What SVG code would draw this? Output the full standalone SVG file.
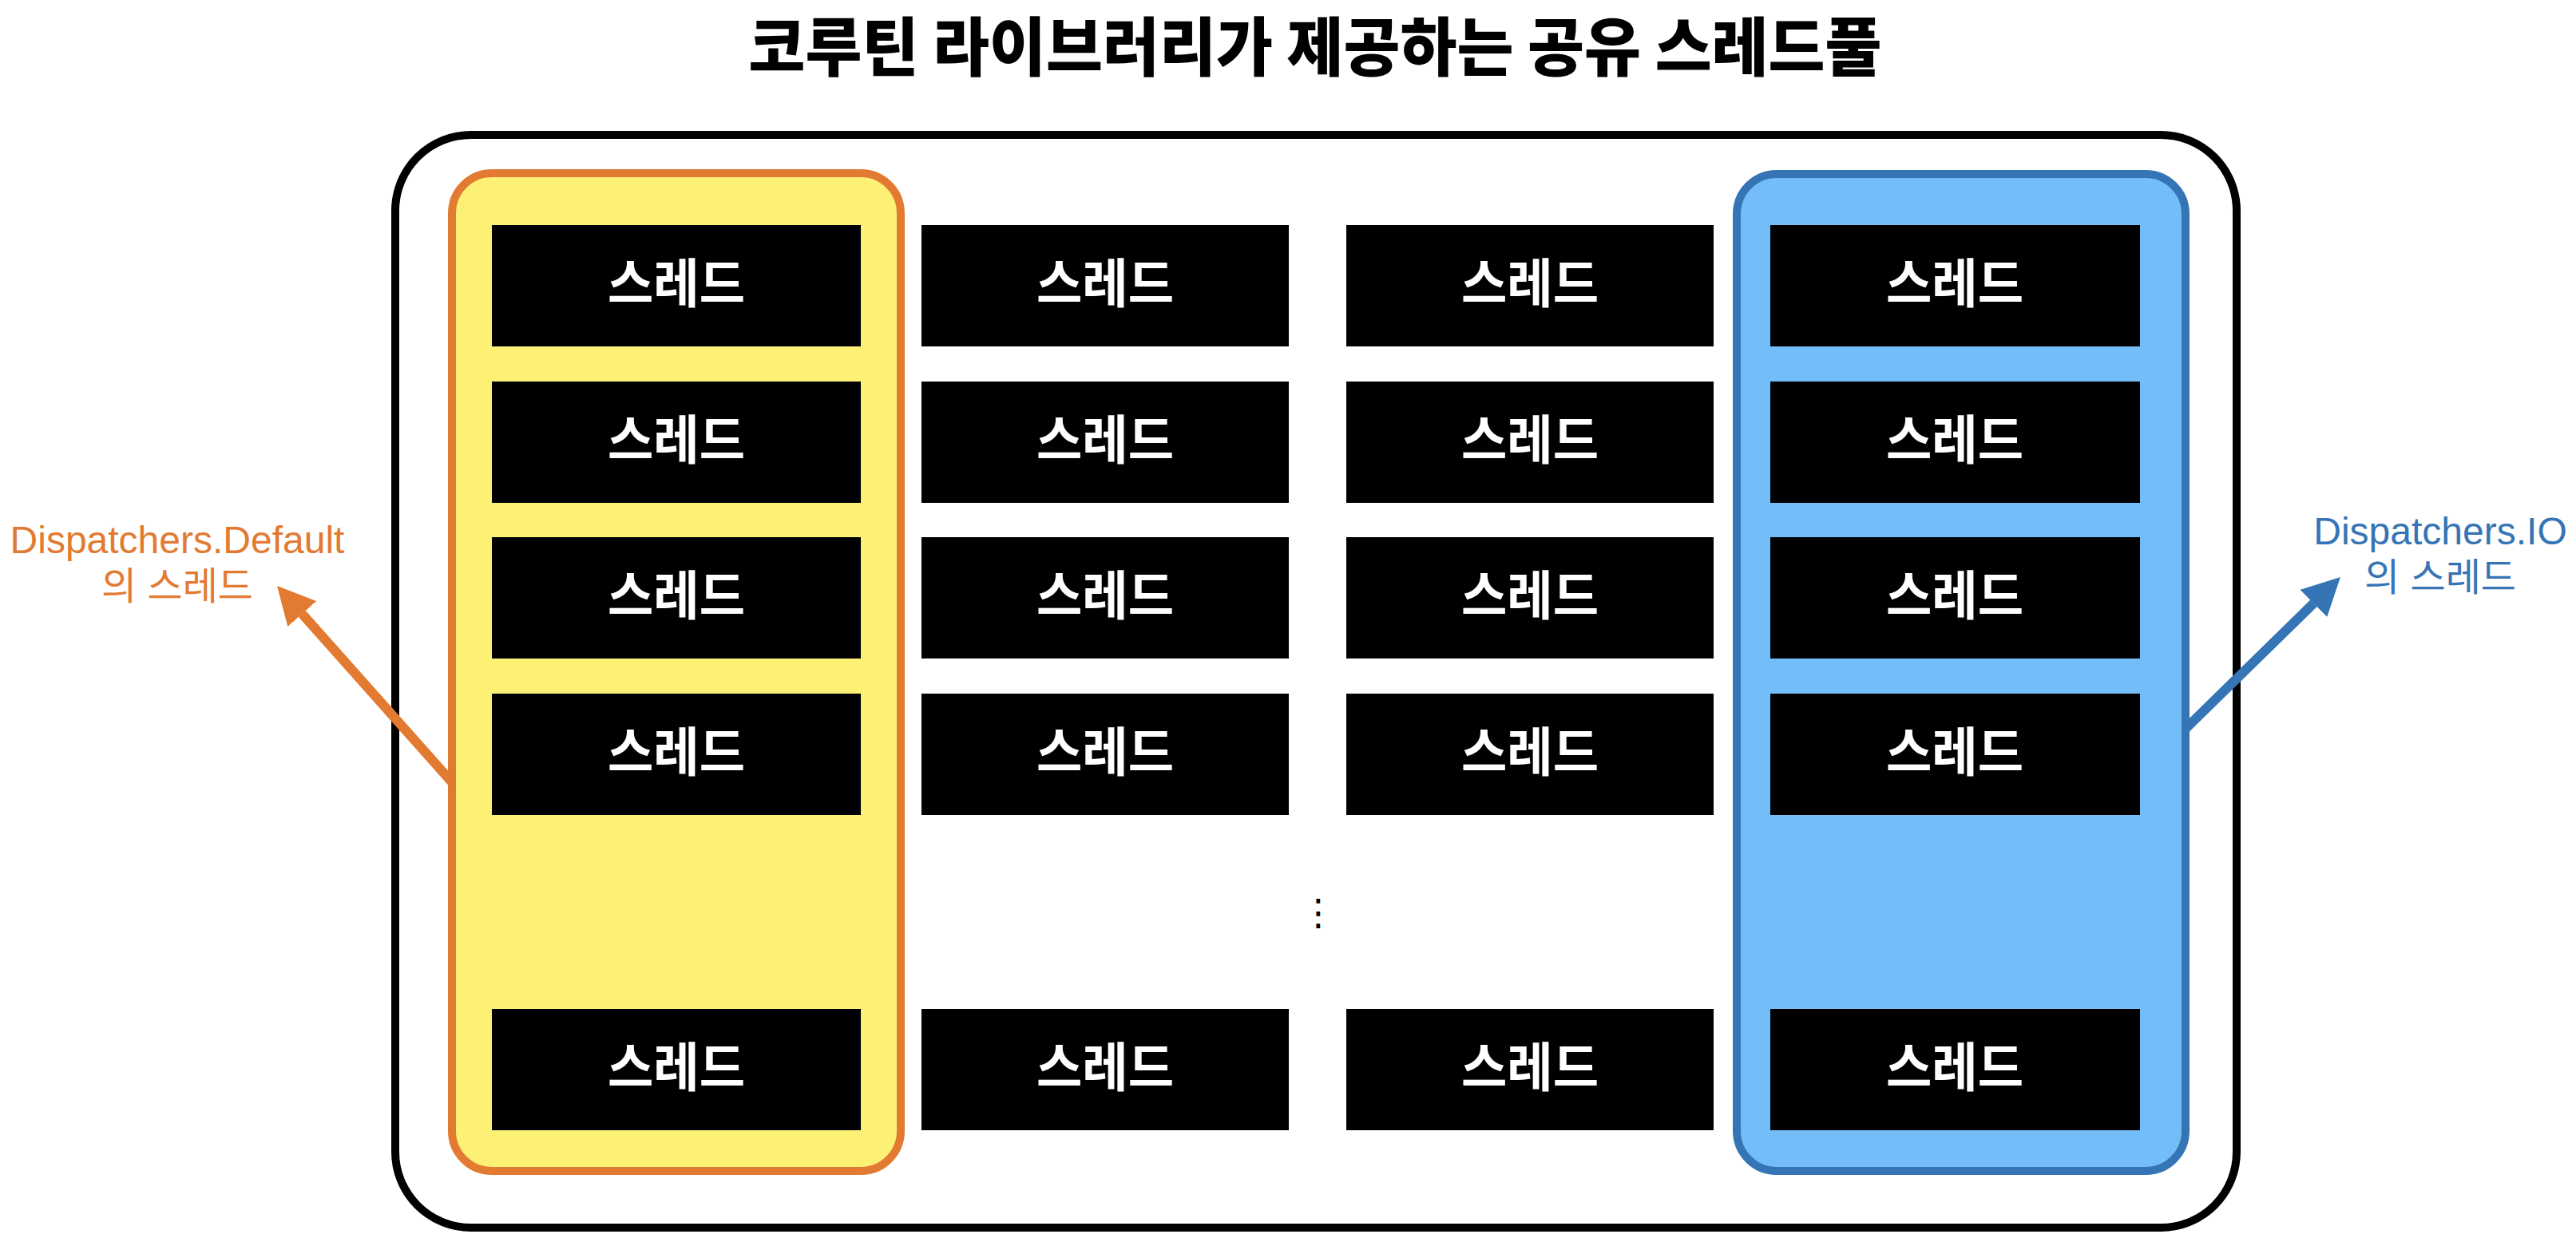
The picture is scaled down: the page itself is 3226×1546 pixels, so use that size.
<svg xmlns="http://www.w3.org/2000/svg" width="3226" height="1546" viewBox="0 0 3226 1546">
<style>
.th{fill:#000}
.tl{fill:#fff;font-family:"Noto Sans CJK KR",sans-serif;font-weight:700;font-size:66px;text-anchor:middle}
.lbl{font-family:"Liberation Sans","Noto Sans CJK KR",sans-serif;font-size:48px;text-anchor:middle}
</style>
<defs>
<marker id="ahO" markerUnits="userSpaceOnUse" markerWidth="48" markerHeight="48" viewBox="0 0 48 48" refX="0" refY="24" orient="auto"><path d="M0,0 L47,24 L0,48 z" fill="#E37A31"/></marker>
<marker id="ahB" markerUnits="userSpaceOnUse" markerWidth="48" markerHeight="48" viewBox="0 0 48 48" refX="0" refY="24" orient="auto"><path d="M0,0 L47,24 L0,48 z" fill="#3574B5"/></marker>
</defs>
<rect width="3226" height="1546" fill="#fff"/>
<text id="title" x="1647" y="88" font-family="'Noto Sans CJK KR',sans-serif" font-weight="900" font-size="80" text-anchor="middle" textLength="1419" lengthAdjust="spacingAndGlyphs">코루틴 라이브러리가 제공하는 공유 스레드풀</text>
<g id="pool"><rect x="495" y="169" width="2306" height="1369" rx="95" fill="#fff" stroke="#000" stroke-width="10"/></g>
<g id="default-group"><rect x="566" y="217" width="562" height="1250" rx="50" fill="#FCF174" stroke="#E37A31" stroke-width="10"/></g>
<g id="io-group"><rect x="2175" y="218" width="562" height="1249" rx="50" fill="#73BEF8" stroke="#3574B5" stroke-width="10"/></g>
<g id="threads">
<g id="t1-1"><rect class="th" x="616" y="282" width="462" height="152"/><text class="tl" x="847" y="379" textLength="172" lengthAdjust="spacingAndGlyphs">스레드</text></g>
<g id="t1-2"><rect class="th" x="616" y="478" width="462" height="152"/><text class="tl" x="847" y="575" textLength="172" lengthAdjust="spacingAndGlyphs">스레드</text></g>
<g id="t1-3"><rect class="th" x="616" y="673" width="462" height="152"/><text class="tl" x="847" y="770" textLength="172" lengthAdjust="spacingAndGlyphs">스레드</text></g>
<g id="t1-4"><rect class="th" x="616" y="869" width="462" height="152"/><text class="tl" x="847" y="966" textLength="172" lengthAdjust="spacingAndGlyphs">스레드</text></g>
<g id="t1-5"><rect class="th" x="616" y="1264" width="462" height="152"/><text class="tl" x="847" y="1361" textLength="172" lengthAdjust="spacingAndGlyphs">스레드</text></g>
<g id="t2-1"><rect class="th" x="1154" y="282" width="460" height="152"/><text class="tl" x="1384" y="379" textLength="172" lengthAdjust="spacingAndGlyphs">스레드</text></g>
<g id="t2-2"><rect class="th" x="1154" y="478" width="460" height="152"/><text class="tl" x="1384" y="575" textLength="172" lengthAdjust="spacingAndGlyphs">스레드</text></g>
<g id="t2-3"><rect class="th" x="1154" y="673" width="460" height="152"/><text class="tl" x="1384" y="770" textLength="172" lengthAdjust="spacingAndGlyphs">스레드</text></g>
<g id="t2-4"><rect class="th" x="1154" y="869" width="460" height="152"/><text class="tl" x="1384" y="966" textLength="172" lengthAdjust="spacingAndGlyphs">스레드</text></g>
<g id="t2-5"><rect class="th" x="1154" y="1264" width="460" height="152"/><text class="tl" x="1384" y="1361" textLength="172" lengthAdjust="spacingAndGlyphs">스레드</text></g>
<g id="t3-1"><rect class="th" x="1686" y="282" width="460" height="152"/><text class="tl" x="1916" y="379" textLength="172" lengthAdjust="spacingAndGlyphs">스레드</text></g>
<g id="t3-2"><rect class="th" x="1686" y="478" width="460" height="152"/><text class="tl" x="1916" y="575" textLength="172" lengthAdjust="spacingAndGlyphs">스레드</text></g>
<g id="t3-3"><rect class="th" x="1686" y="673" width="460" height="152"/><text class="tl" x="1916" y="770" textLength="172" lengthAdjust="spacingAndGlyphs">스레드</text></g>
<g id="t3-4"><rect class="th" x="1686" y="869" width="460" height="152"/><text class="tl" x="1916" y="966" textLength="172" lengthAdjust="spacingAndGlyphs">스레드</text></g>
<g id="t3-5"><rect class="th" x="1686" y="1264" width="460" height="152"/><text class="tl" x="1916" y="1361" textLength="172" lengthAdjust="spacingAndGlyphs">스레드</text></g>
<g id="t4-1"><rect class="th" x="2217" y="282" width="463" height="152"/><text class="tl" x="2448" y="379" textLength="172" lengthAdjust="spacingAndGlyphs">스레드</text></g>
<g id="t4-2"><rect class="th" x="2217" y="478" width="463" height="152"/><text class="tl" x="2448" y="575" textLength="172" lengthAdjust="spacingAndGlyphs">스레드</text></g>
<g id="t4-3"><rect class="th" x="2217" y="673" width="463" height="152"/><text class="tl" x="2448" y="770" textLength="172" lengthAdjust="spacingAndGlyphs">스레드</text></g>
<g id="t4-4"><rect class="th" x="2217" y="869" width="463" height="152"/><text class="tl" x="2448" y="966" textLength="172" lengthAdjust="spacingAndGlyphs">스레드</text></g>
<g id="t4-5"><rect class="th" x="2217" y="1264" width="463" height="152"/><text class="tl" x="2448" y="1361" textLength="172" lengthAdjust="spacingAndGlyphs">스레드</text></g>
</g>
<text id="ellipsis" x="1651" y="1159" font-family="'DejaVu Sans',sans-serif" font-size="46" text-anchor="middle" fill="#000">⋮</text>
<g id="label-default" class="lbl" fill="#E37A31"><text x="222" y="693">Dispatchers.Default</text><text x="222" y="751">의 스레드</text></g>
<g id="label-io" class="lbl" fill="#3574B5"><text x="3056" y="682">Dispatchers.IO</text><text x="3056" y="740">의 스레드</text></g>
<g id="connectors" fill="none" stroke-width="12">
<line x1="566" y1="980" x2="378.3" y2="769.1" stroke="#E37A31" marker-end="url(#ahO)"/>
<line x1="2737" y1="913" x2="2897.4" y2="755.9" stroke="#3574B5" marker-end="url(#ahB)"/>
</g>
</svg>
